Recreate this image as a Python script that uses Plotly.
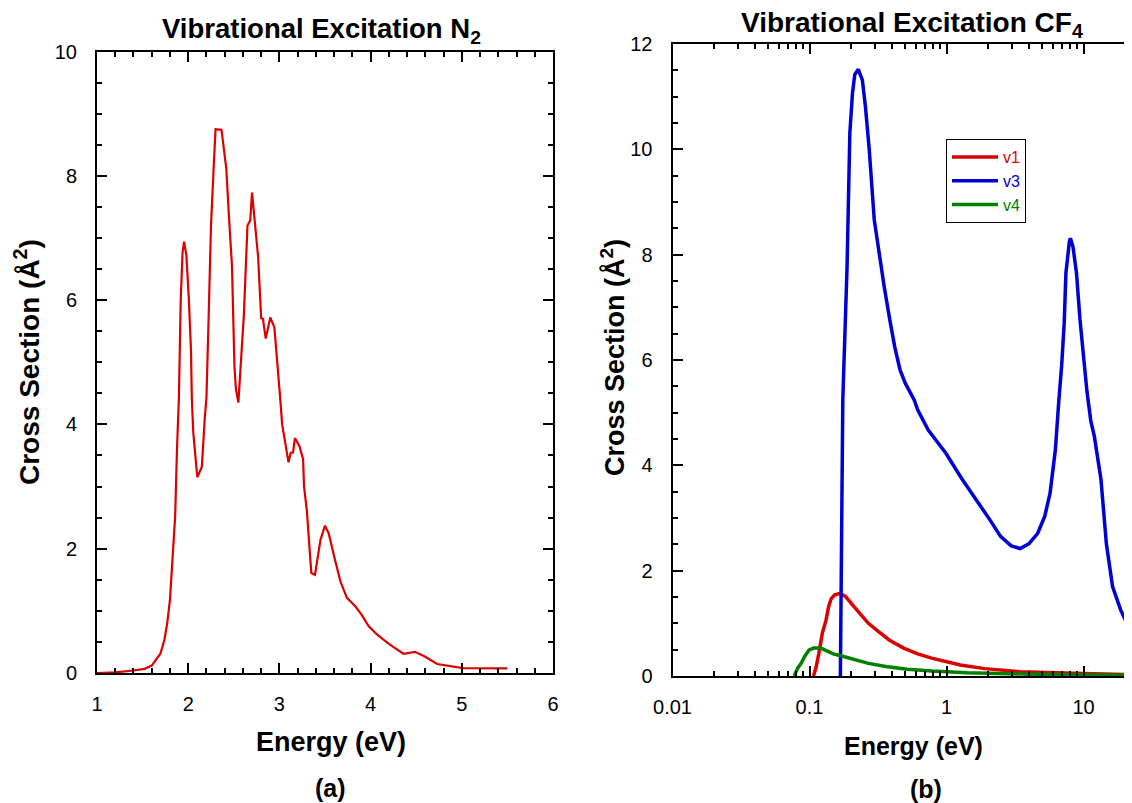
import plotly.graph_objects as go

# ---------------- Data ----------------
# (a) N2 vibrational excitation
n2_energy = [1.0, 1.2, 1.4, 1.52, 1.6, 1.695, 1.74, 1.77, 1.80, 1.83, 1.857, 1.877, 1.898,
             1.918, 1.938, 1.955, 1.98, 2.007, 2.03, 2.04, 2.056, 2.10, 2.15, 2.18, 2.20,
             2.22, 2.25, 2.28, 2.30, 2.365, 2.418, 2.446, 2.48, 2.507, 2.523, 2.55, 2.61,
             2.65, 2.68, 2.70, 2.767, 2.80, 2.82, 2.85, 2.90, 2.945, 2.98, 3.01, 3.03,
             3.10, 3.124, 3.15, 3.17, 3.22, 3.26, 3.27, 3.30, 3.35, 3.39, 3.45, 3.50,
             3.54, 3.61, 3.67, 3.74, 3.835, 3.90, 3.98, 4.07, 4.20, 4.36, 4.485, 4.59,
             4.73, 5.01, 5.5]
n2_sigma = [0.0, 0.01, 0.04, 0.065, 0.12, 0.31, 0.54, 0.80, 1.18, 1.82, 2.52, 3.6, 4.43,
            6.0, 6.77, 6.94, 6.72, 6.02, 5.21, 4.4, 3.86, 3.15, 3.32, 4.07, 4.43,
            5.5, 7.2, 8.16, 8.75, 8.74, 8.11, 7.36, 6.55, 4.94, 4.57, 4.35, 5.75,
            7.2, 7.28, 7.73, 6.69, 5.71, 5.70, 5.38, 5.72, 5.56, 5.0, 4.4, 4.0,
            3.39, 3.54, 3.55, 3.78, 3.65, 3.44, 3.0, 2.63, 1.61, 1.58, 2.14, 2.37,
            2.25, 1.82, 1.47, 1.21, 1.07, 0.94, 0.75, 0.62, 0.47, 0.31, 0.34, 0.27,
            0.145, 0.08, 0.075]

# (b) CF4 vibrational excitation
v1_energy = [0.107, 0.112, 0.117, 0.124, 0.132, 0.138, 0.144, 0.153, 0.167, 0.183, 0.206,
             0.239, 0.269, 0.321, 0.384, 0.487, 0.617, 0.78, 0.99, 1.26, 1.90, 3.44, 8.4, 30.0]
v1_sigma = [0.0, 0.18, 0.43, 0.81, 1.06, 1.32, 1.47, 1.54, 1.57, 1.51, 1.35,
            1.16, 1.0, 0.84, 0.68, 0.53, 0.42, 0.34, 0.27, 0.21, 0.14, 0.08, 0.05, 0.015]

v3_energy = [0.168, 0.175, 0.188, 0.197, 0.206, 0.214, 0.227, 0.243, 0.256, 0.273, 0.297,
             0.321, 0.351, 0.384, 0.419, 0.458, 0.50, 0.581, 0.617, 0.736, 0.99, 1.29,
             1.69, 2.08, 2.48, 2.97, 3.44, 3.99, 4.63, 5.21, 5.70, 6.23, 6.61, 6.93,
             7.23, 7.44, 7.89, 8.03, 8.38, 8.89, 9.43, 10.3, 10.6, 11.3, 12.0, 13.4,
             14.7, 16.3, 18.7, 21.6, 23.5, 30.0]
v3_sigma = [0.0, 5.24, 7.77, 10.31, 11.07, 11.42, 11.52, 11.32, 10.81, 9.99, 8.66,
            8.03, 7.39, 6.79, 6.25, 5.81, 5.56, 5.24, 5.05, 4.67, 4.23, 3.75,
            3.31, 2.96, 2.65, 2.47, 2.42, 2.51, 2.71, 3.03, 3.47, 4.29, 5.24, 5.9,
            6.7, 7.65, 8.25, 8.31, 8.15, 7.65, 6.76, 5.7, 5.4, 4.85, 4.55, 3.74,
            2.5, 1.7, 1.25, 0.9, 0.72, 0.4]

v4_energy = [0.0773, 0.082, 0.087, 0.092, 0.099, 0.107, 0.121, 0.132, 0.149, 0.172, 0.212,
             0.269, 0.361, 0.516, 0.78, 1.41, 3.44, 30.0]
v4_sigma = [0.0, 0.15, 0.24, 0.37, 0.49, 0.53, 0.53, 0.48, 0.42, 0.38, 0.32,
            0.24, 0.18, 0.13, 0.095, 0.063, 0.038, 0.01]

cf4_xticks = [0.01, 0.1, 1, 10]
cf4_xticktext = ["0.01", "0.1", "1", "10"]

# ---------------- Style ----------------
# The page places the figure 8 px from the top-left corner (default body margin),
# so the figure is sized/positioned to line up with the 1132x803 window.
OFF = 8
W, H = 1132 - OFF, 803 - OFF
FONT = "Liberation Sans, Arial, Helvetica, sans-serif"
RED, BLUE, GREEN = "#dd0000", "#0000d6", "#008000"


def px(x):
    return (x - OFF) / W


def py(y):
    return 1 - (y - OFF) / H


fig = go.Figure()

fig.add_trace(go.Scatter(x=n2_energy, y=n2_sigma, mode="lines",
                         line=dict(color=RED, width=2.2),
                         xaxis="x", yaxis="y", showlegend=False))

fig.add_trace(go.Scatter(x=v1_energy, y=v1_sigma, mode="lines", name="<span style='color:%s'>v1</span>" % RED,
                         line=dict(color=RED, width=3.5), xaxis="x2", yaxis="y2"))
fig.add_trace(go.Scatter(x=v3_energy, y=v3_sigma, mode="lines", name="<span style='color:%s'>v3</span>" % BLUE,
                         line=dict(color=BLUE, width=3.5), xaxis="x2", yaxis="y2"))
fig.add_trace(go.Scatter(x=v4_energy, y=v4_sigma, mode="lines", name="<span style='color:%s'>v4</span>" % GREEN,
                         line=dict(color=GREEN, width=3.5), xaxis="x2", yaxis="y2"))
# helper trace so the right-side tick axis is drawn
fig.add_trace(go.Scatter(x=[], y=[], xaxis="x2", yaxis="y3", showlegend=False, hoverinfo="skip"))

axis_common = dict(showline=True, linecolor="black", linewidth=2, showgrid=False, zeroline=False,
                   automargin=False,
                   ticks="inside", ticklen=10, tickwidth=1.8, tickcolor="black")
minor_common = dict(ticks="inside", ticklen=5, tickwidth=1.5, tickcolor="black", showgrid=False)

fig.update_layout(
    template="none",
    width=W, height=H,
    margin=dict(l=0, r=0, t=0, b=0, pad=0),
    paper_bgcolor="white", plot_bgcolor="white",
    font=dict(family=FONT, color="black"),
    xaxis=dict(domain=[px(97), px(553)], anchor="y", range=[1, 6], dtick=1,
               mirror="ticks", tickfont=dict(size=20), ticklabelstandoff=12,
               minor=dict(dtick=0.2, **minor_common),
               **axis_common),
    yaxis=dict(domain=[py(673), py(51.5)], anchor="x", range=[0, 10], dtick=2,
               mirror="ticks", tickfont=dict(size=20), ticklabelstandoff=14,
               minor=dict(dtick=0.5, **minor_common),
               **axis_common),
    xaxis2=dict(domain=[px(672.5), 1.0], anchor="y2", type="log", range=[-2, 1.354],
                tickvals=cf4_xticks, ticktext=cf4_xticktext,
                mirror="ticks", tickfont=dict(size=20), ticklabelstandoff=12,
                minor=dict(dtick="D1", **minor_common),
                **axis_common),
    yaxis2=dict(domain=[py(676), py(44)], anchor="x2", range=[0, 12], dtick=2,
                mirror=False, tickfont=dict(size=20), ticklabelstandoff=14,
                minor=dict(dtick=0.5, **minor_common),
                **axis_common),
    yaxis3=dict(overlaying="y2", side="right", anchor="free", position=1.0, automargin=False,
                range=[0, 12], dtick=2, showticklabels=False, showline=False, showgrid=False,
                zeroline=False, ticks="inside", ticklen=3, tickwidth=1.8, tickcolor="black"),
    legend=dict(x=px(946), y=py(139), xanchor="left", yanchor="top",
                bordercolor="black", borderwidth=1, bgcolor="white",
                font=dict(size=16, family=FONT), tracegroupgap=0, itemwidth=46,
                entrywidth=40, entrywidthmode="pixels"),
)

annotations = [
    dict(text="<b>Vibrational Excitation N<sub>2</sub></b>", x=px(321), y=py(31), size=27.5),
    dict(text="<b>Vibrational Excitation CF<sub>4</sub></b>", x=px(912), y=py(25), size=28),
    dict(text="<b>Energy (eV)</b>", x=px(331), y=py(742), size=27),
    dict(text="<b>Energy (eV)</b>", x=px(913), y=py(746), size=25),
    dict(text="<b>(a)</b>", x=px(330), y=py(788), size=25),
    dict(text="<b>(b)</b>", x=px(926), y=py(789), size=25),
]
for a in annotations:
    fig.add_annotation(text=a["text"], x=a["x"], y=a["y"], xref="paper", yref="paper",
                       xanchor="center", yanchor="middle", showarrow=False,
                       font=dict(size=a["size"], family=FONT, color="black"))

fig.add_annotation(text="<b>Cross Section (Å<sup>2</sup>)</b>", x=px(27), y=py(362), xref="paper", yref="paper",
                   xanchor="center", yanchor="middle", showarrow=False, textangle=-90,
                   font=dict(size=28, family=FONT, color="black"))
fig.add_annotation(text="<b>Cross Section (Å<sup>2</sup>)</b>", x=px(613), y=py(358), xref="paper", yref="paper",
                   xanchor="center", yanchor="middle", showarrow=False, textangle=-90,
                   font=dict(size=27, family=FONT, color="black"))

fig.write_html("out.html")
